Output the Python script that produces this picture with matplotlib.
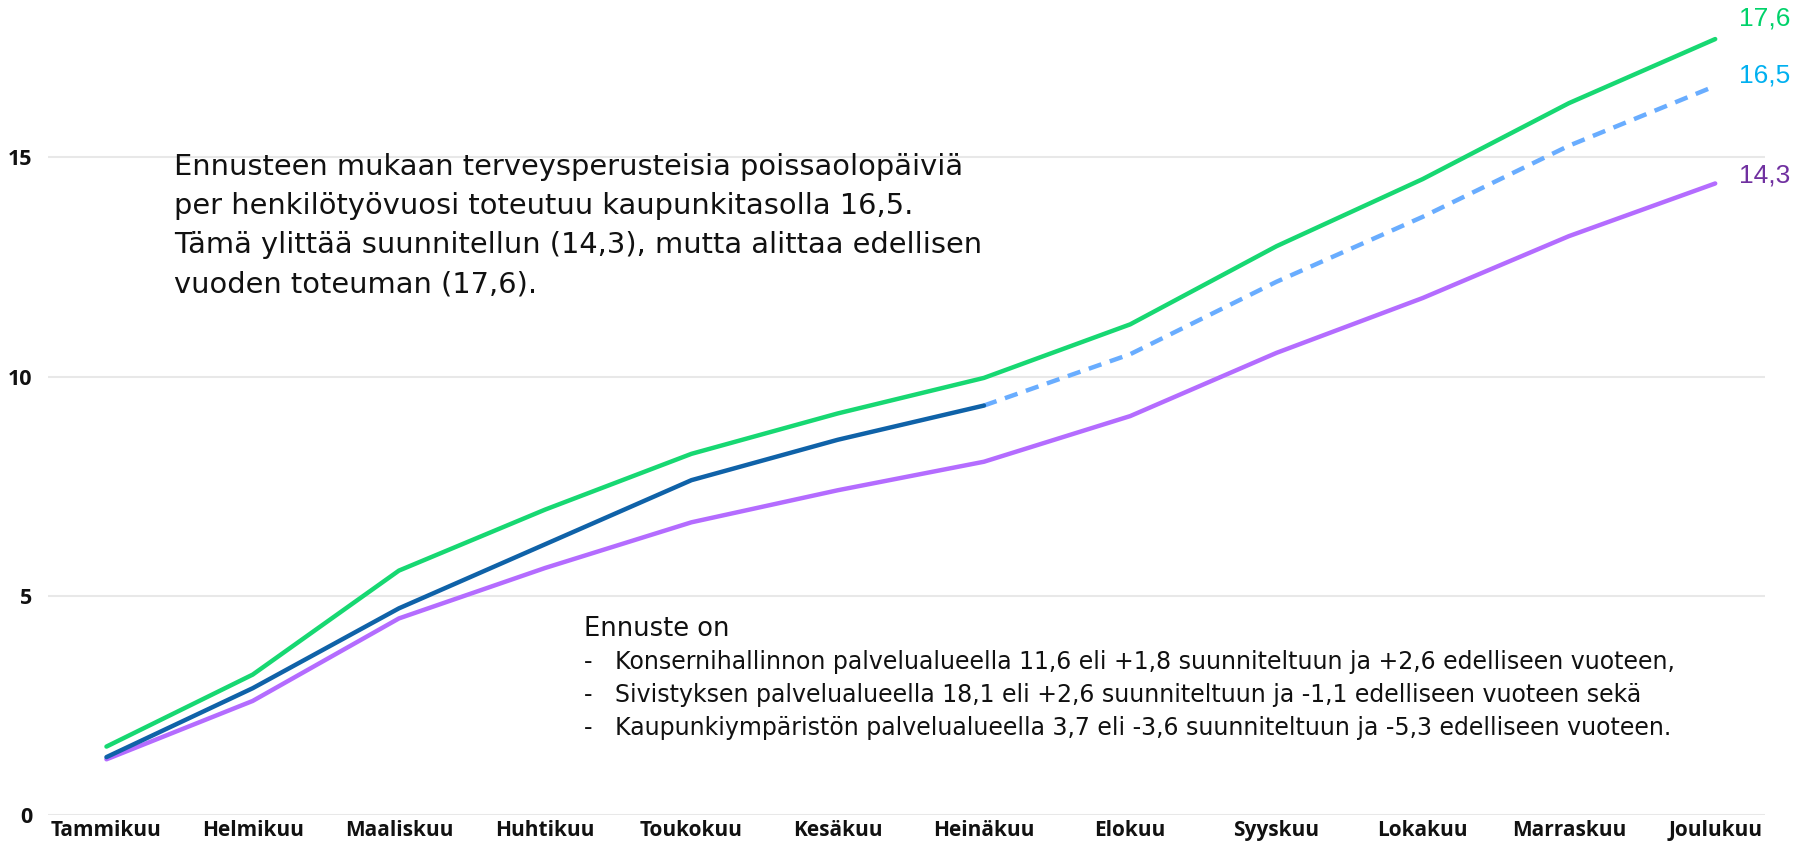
import matplotlib
matplotlib.use("Agg")
import matplotlib.pyplot as plt

months = ['Tammikuu', 'Helmikuu', 'Maaliskuu', 'Huhtikuu', 'Toukokuu', 'Kesäkuu',
          'Heinäkuu', 'Elokuu', 'Syyskuu', 'Lokakuu', 'Marraskuu', 'Joulukuu']
edellinen = [1.57, 3.21, 5.58, 6.97, 8.24, 9.16, 9.97, 11.19, 12.97, 14.5, 16.23, 17.69]
toteuma = [1.33, 2.9, 4.72, 6.18, 7.64, 8.56, 9.34]
ennuste = [9.34, 10.51, 12.16, 13.64, 15.26, 16.62]
suunniteltu = [1.28, 2.61, 4.49, 5.64, 6.68, 7.41, 8.06, 9.1, 10.54, 11.79, 13.2, 14.4]
end_labels = ['17,6', '16,5', '14,3']
end_colors = ['#00d26a', '#00b0f0', '#7030a0']

fig = plt.figure(figsize=(17.96, 8.47), dpi=100)
ax = fig.add_axes([0.0267, 0.0372, 0.956, 0.9628])

x = list(range(len(months)))
ax.plot(x, edellinen, color='#17d872', lw=3.2, solid_capstyle='round')
ax.plot(x, suunniteltu, color='#b46cff', lw=3.2, solid_capstyle='round')
ax.plot(x[6:], ennuste, color='#69adff', lw=3.2, dashes=(3, 2))
ax.plot(x[:7], toteuma, color='#0f62a8', lw=3.2, solid_capstyle='round')

ax.set_xlim(-0.4, 11.34)
ax.set_ylim(0, 18.58)
ax.set_yticks([0, 5, 10, 15])
ax.set_xticks(x)
ax.set_xticklabels(months)
ax.grid(axis='y', color='#e8e8e8', lw=1.5)
ax.set_axisbelow(True)
for s in ax.spines.values():
    s.set_visible(False)
ax.tick_params(length=0)
ax.tick_params(axis='x', pad=3)
ax.tick_params(axis='y', pad=11)
for t in ax.get_xticklabels():
    t.set_fontfamily(['Open Sans', 'DejaVu Sans'])
    t.set_fontweight('bold')
    t.set_fontsize(15)
    t.set_color('#111111')
for t in ax.get_yticklabels():
    t.set_fontfamily(['Open Sans', 'DejaVu Sans'])
    t.set_fontweight('bold')
    t.set_fontsize(15.5)
    t.set_color('#111111')

# end labels
end_y = [edellinen[-1], ennuste[-1], suunniteltu[-1]]
offsets = [0.47, 0.23, 0.18]
for lab, c, yv, off in zip(end_labels, end_colors, end_y, offsets):
    ax.text(11.16, yv + off, lab, color=c, fontsize=19, ha='left', va='center',
            family=['Liberation Sans', 'DejaVu Sans'], clip_on=False)

body = ['DejaVu Sans']
txt1 = ('Ennusteen mukaan terveysperusteisia poissaolopäiviä\n'
        'per henkilötyövuosi toteutuu kaupunkitasolla 16,5.\n'
        'Tämä ylittää suunnitellun (14,3), mutta alittaa edellisen\n'
        'vuoden toteuman (17,6).')
fig.text(174 / 1796, 1 - 153 / 847, txt1, fontsize=20.8, family=body, va='top',
         ha='left', linespacing=1.5, color='#111111')

fig.text(584 / 1796, 1 - 629 / 847, 'Ennuste on', fontsize=18.5, family=body,
         va='center', ha='left', color='#111111')
bullets = ['Konsernihallinnon palvelualueella 11,6 eli +1,8 suunniteltuun ja +2,6 edelliseen vuoteen,',
           'Sivistyksen palvelualueella 18,1 eli +2,6 suunniteltuun ja -1,1 edelliseen vuoteen sekä',
           'Kaupunkiympäristön palvelualueella 3,7 eli -3,6 suunniteltuun ja -5,3 edelliseen vuoteen.']
for i, b in enumerate(bullets):
    yy = 1 - (662 + 33 * i) / 847
    fig.text(584 / 1796, yy, '-', fontsize=17, family=body, va='center', ha='left', color='#111111')
    fig.text(615 / 1796, yy, b, fontsize=17, family=body, va='center', ha='left', color='#111111')

fig.savefig('out.png', dpi=100)
